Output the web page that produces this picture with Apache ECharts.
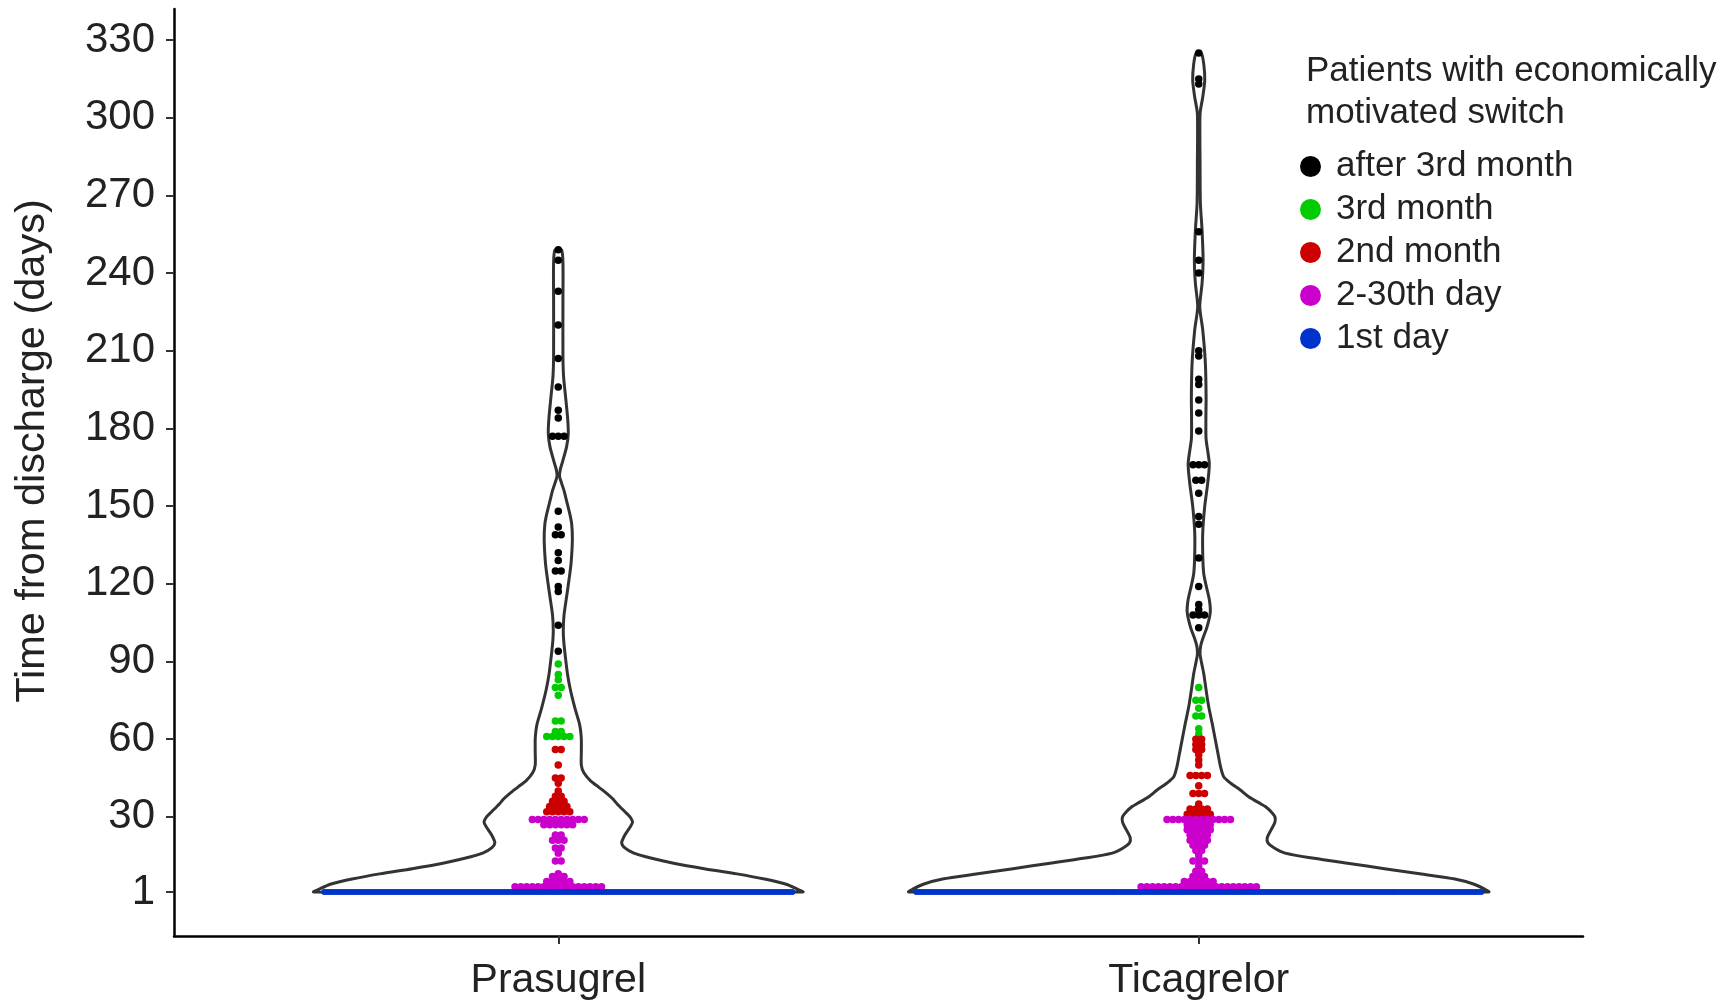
<!DOCTYPE html>
<html>
<head>
<meta charset="utf-8">
<script src="https://cdn.jsdelivr.net/npm/echarts@6/dist/echarts.min.js"></script>
<style>
html,body{margin:0;padding:0;background:#fff;}
#chart{width:1735px;height:1001px;}
</style>
</head>
<body>
<div id="chart"></div>
<script>
// ---------- DATA ----------
const categories = ['Prasugrel', 'Ticagrelor'];
const yTicks = [1, 30, 60, 90, 120, 150, 180, 210, 240, 270, 300, 330];
const groups = ['after 3rd month', '3rd month', '2nd month', '2-30th day', '1st day'];
const groupColors = ['#000000', '#00cc00', '#cc0000', '#cc00cc', '#0033cc'];

// dot rows: [days, number of patients]
const prasugrelAfter3 = [[249,1],[245,1],[233,1],[220,1],[207,1],[196,1],[187,1],[184,1],[177,3],[148,1],[142,1],[139,2],[132,1],[129,1],[125,2],[119,1],[117,1],[104,1],[94,1]];
const prasugrel3rd = [[89,1],[85,1],[83,1],[80,2],[77,1],[67,2],[63,2],[61,5]];
const prasugrel2nd = [[56,2],[50,1],[45,2],[43,1],[40,1],[38,2],[36,3],[34,4],[32,5]];
const prasugrelDays = [[29,10],[27,6],[23,2],[21,3],[18,2],[16,1],[13,2],[8,1],[7,3],[5,5],[3,16]];
const prasugrel1st = [[1,175]];

const ticagrelorAfter3 = [[325,1],[315,1],[313,1],[256,1],[245,1],[240,1],[210,1],[208,1],[199,1],[197,1],[191,1],[186,1],[179,1],[166,3],[160,2],[155,1],[146,1],[143,1],[130,1],[119,1],[112,1],[110,1],[108,3],[103,1]];
const ticagrelor3rd = [[80,1],[75,2],[72,1],[69,2],[64,1],[62,1]];
const ticagrelor2nd = [[60,2],[58,2],[56,2],[54,1],[52,1],[50,1],[46,4],[42,1],[39,3],[35,1],[33,4],[31,5]];
const ticagrelorDays = [[29,12],[27,5],[25,5],[23,4],[21,4],[19,3],[17,2],[15,1],[13,3],[11,1],[9,2],[7,3],[5,6],[3,21]];
const ticagrelor1st = [[1,211]];

// violin density half-widths: [days, half-width in category units]
const prasugrelViolin = [[1,0.382],[2,0.374],[4,0.356],[6,0.322],[8,0.279],[10,0.228],[12,0.182],[14,0.146],[16,0.118],[18,0.104],[20,0.099],[23,0.104],[26,0.112],[28,0.116],[30,0.112],[32,0.104],[35,0.092],[37,0.085],[39,0.076],[41.5,0.063],[44,0.050],[47,0.040],[50,0.036],[55,0.036],[60,0.036],[63,0.035],[66,0.033],[72,0.026],[79,0.019],[85,0.0145],[92,0.011],[98,0.0085],[102,0.0078],[108,0.009],[115,0.013],[122,0.017],[128,0.020],[137,0.022],[143,0.021],[147,0.018],[152,0.013],[156,0.009],[159,0.005],[161.5,0.002],[164,0.003],[167,0.0065],[173,0.013],[178,0.0156],[184,0.0146],[192,0.0115],[200,0.0083],[208,0.0073],[230,0.0073],[244,0.0073],[249,0.005]];
const ticagrelorViolin = [[1,0.453],[2,0.447],[4,0.430],[6,0.400],[8,0.345],[10,0.290],[12,0.235],[14,0.180],[16,0.135],[18,0.118],[20,0.108],[22,0.107],[25,0.113],[28,0.119],[30,0.119],[32,0.113],[34,0.104],[35,0.097],[37.8,0.078],[40.4,0.065],[43,0.050],[45.5,0.039],[49.4,0.034],[53.2,0.031],[59.7,0.026],[66.1,0.021],[72.5,0.0156],[79,0.0115],[85.4,0.0078],[90,0.004],[93,0.002],[96,0.003],[98.8,0.0063],[103.4,0.013],[109,0.018],[113.7,0.0167],[119.4,0.0115],[124,0.0078],[130.9,0.0063],[140,0.0063],[150,0.0094],[158.8,0.014],[166.5,0.0165],[175.9,0.0115],[184,0.0112],[192.2,0.0115],[205.1,0.0104],[218,0.0063],[227,0.0016],[236,0.0052],[245,0.0068],[256.6,0.0052],[266.9,0.0026],[282.3,0.0021],[301.6,0.0021],[308,0.0063],[314.5,0.0094],[320.9,0.0078],[325,0.004]];

// ---------- BUILD ----------
const violins = [prasugrelViolin, ticagrelorViolin];
const dotRows = [
  [prasugrelAfter3, ticagrelorAfter3],
  [prasugrel3rd, ticagrelor3rd],
  [prasugrel2nd, ticagrelor2nd],
  [prasugrelDays, ticagrelorDays],
  [prasugrel1st, ticagrelor1st]
];
const DOT_STEP = 0.009, BLUE_STEP = 0.0042;

function swarm(rowsPerCat, step) {
  const out = [];
  rowsPerCat.forEach((rows, ci) => {
    const c = ci + 1;
    rows.forEach(([v, n]) => {
      for (let k = 0; k < n; k++) out.push([c + (k - (n - 1) / 2) * step, v]);
    });
  });
  return out;
}

const FONT = '"Liberation Sans", Arial, Helvetica, sans-serif';
const TXT = '#222222';

const series = [{
  type: 'custom',
  name: 'violin',
  silent: true,
  z: 1,
  data: [[1, 1], [2, 1]],
  renderItem: function (params, api) {
    const idx = params.dataIndex;
    const prof = violins[idx];
    const c = idx + 1;
    const right = prof.map(([v, w]) => api.coord([c + w, v]));
    const left = prof.slice().reverse().map(([v, w]) => api.coord([c - w, v]));
    return {
      type: 'polygon',
      shape: { points: right.concat(left), smooth: 0.25 },
      style: { fill: 'none', stroke: '#333333', lineWidth: 3, lineJoin: 'round' }
    };
  }
}];

groups.forEach((g, gi) => {
  const isBlue = gi === 4;
  series.push({
    type: 'scatter',
    name: g,
    z: 3 + gi,
    symbol: 'circle',
    symbolSize: isBlue ? 6 : 7.5,
    itemStyle: { color: groupColors[gi], opacity: 1 },
    data: swarm(dotRows[gi], isBlue ? BLUE_STEP : DOT_STEP),
    emphasis: { disabled: true }
  });
});

const option = {
  animation: false,
  backgroundColor: '#ffffff',
  title: {
    text: 'Patients with economically\nmotivated switch',
    left: 1306, top: 50, padding: 0,
    textStyle: { fontFamily: FONT, fontSize: 35, fontWeight: 'normal', color: TXT, lineHeight: 42 }
  },
  legend: {
    data: groups,
    orient: 'vertical',
    left: 1300, top: 149,
    padding: 0,
    itemGap: 8,
    itemWidth: 21, itemHeight: 21,
    icon: 'circle',
    selectedMode: false,
    textStyle: { fontFamily: FONT, fontSize: 35, color: TXT, padding: [0, 0, 0, 10] }
  },
  grid: { left: 174, right: 152, top: 9, bottom: 63, containLabel: false },
  xAxis: {
    type: 'value', min: 0.4, max: 2.6,
    axisLine: { show: true, onZero: false, lineStyle: { color: '#000', width: 2.5 } },
    axisTick: { show: true, customValues: [1, 2], length: 8, lineStyle: { color: '#333', width: 2 } },
    axisLabel: { customValues: [1, 2], formatter: v => categories[Math.round(v) - 1], fontFamily: FONT, fontSize: 41, color: TXT, margin: 24 },
    splitLine: { show: false }
  },
  yAxis: {
    type: 'value', min: -16, max: 342,
    axisLine: { show: true, onZero: false, lineStyle: { color: '#000', width: 2.5 } },
    axisTick: { show: true, customValues: yTicks, length: 8, lineStyle: { color: '#333', width: 2 } },
    axisLabel: { customValues: yTicks, fontFamily: FONT, fontSize: 42, color: TXT, margin: 19 },
    splitLine: { show: false }
  },
  graphic: [{
    type: 'text',
    x: 33, y: 451,
    rotation: Math.PI / 2,
    style: { text: 'Time from discharge (days)', fontFamily: FONT, fontSize: 41.5, fill: TXT, align: 'center', verticalAlign: 'middle' }
  }],
  series: series
};

const chart = echarts.init(document.getElementById('chart'), null, { renderer: 'canvas' });
chart.setOption(option);
</script>
</body>
</html>
